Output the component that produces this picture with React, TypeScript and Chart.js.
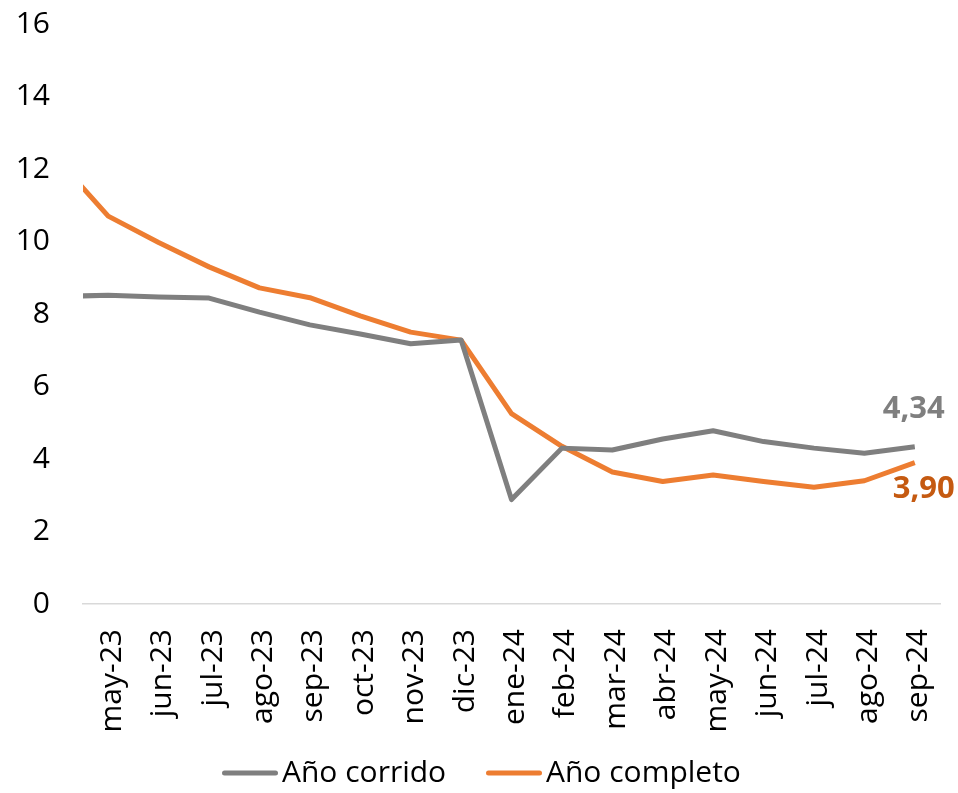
import React, { useEffect, useRef } from "react";
import { Chart, registerables } from "chart.js";

Chart.register(...registerables);

const categories = [
  "may-23", "jun-23", "jul-23", "ago-23", "sep-23", "oct-23", "nov-23", "dic-23",
  "ene-24", "feb-24", "mar-24", "abr-24", "may-24", "jun-24", "jul-24", "ago-24", "sep-24",
];
// value of the month before the first label (abr-23), only partly visible at the left edge
const priorCorrido = 8.48;
const priorCompleto = 12.25;
const anoCorrido = [8.52, 8.47, 8.44, 8.05, 7.7, 7.45, 7.18, 7.28, 2.88, 4.3, 4.25, 4.55, 4.78, 4.48, 4.3, 4.16, 4.34];
const anoCompleto = [10.7, 9.97, 9.3, 8.72, 8.45, 7.95, 7.5, 7.28, 5.25, 4.35, 3.64, 3.38, 3.56, 3.38, 3.22, 3.4, 3.9];
const yTicks = [0, 2, 4, 6, 8, 10, 12, 14, 16];
const seriesNames = ["Año corrido", "Año completo"];
const endLabels = ["4,34", "3,90"];

const GRAY = "#7f7f7f";
const ORANGE = "#ed7d31";
const ORANGE_DARK = "#c55a11";
const FONT = "'Open Sans', 'Noto Sans', sans-serif";
const FS = 30;

export default function App() {
  const ref = useRef<HTMLCanvasElement>(null);
  useEffect(() => {
    document.body.style.margin = "0";
    const toPts = (prior: number, arr: number[]) => [
      { x: -1, y: prior },
      ...arr.map((v, i) => ({ x: i, y: v })),
    ];
    const endLabelPlugin = {
      id: "endLabels",
      afterDatasetsDraw(chart: any) {
        const ctx = chart.ctx;
        const xs = chart.scales.x;
        const ys = chart.scales.y;
        const last = categories.length - 1;
        ctx.save();
        ctx.font = `bold 31px ${FONT}`;
        ctx.textAlign = "center";
        ctx.textBaseline = "middle";
        ctx.fillStyle = GRAY;
        ctx.fillText(endLabels[0], xs.getPixelForValue(last) - 1, ys.getPixelForValue(anoCorrido[last]) - 38);
        ctx.fillStyle = ORANGE_DARK;
        ctx.fillText(endLabels[1], xs.getPixelForValue(last) + 9, ys.getPixelForValue(anoCompleto[last]) + 27);
        ctx.restore();
      },
      afterDraw(chart: any) {
        const ctx = chart.ctx;
        ctx.save();
        ctx.font = `${FS}px ${FONT}`;
        ctx.textBaseline = "middle";
        const lineW = 56;
        const gap = 4;
        const starts = [222, 486];
        const colors = [GRAY, ORANGE];
        const y = 773;
        seriesNames.forEach((n, i) => {
          const x = starts[i];
          ctx.strokeStyle = colors[i];
          ctx.lineWidth = 5;
          ctx.lineCap = "round";
          ctx.beginPath();
          ctx.moveTo(x + 2.5, y);
          ctx.lineTo(x + lineW - 2.5, y);
          ctx.stroke();
          ctx.fillStyle = "#000";
          ctx.fillText(n, x + lineW + gap, y);
        });
        ctx.restore();
      },
    };
    const chart = new Chart(ref.current!, {
      type: "line",
      data: {
        datasets: [
          {
            label: seriesNames[0],
            data: toPts(priorCorrido, anoCorrido),
            borderColor: GRAY,
            backgroundColor: GRAY,
            borderWidth: 5,
            pointRadius: 0,
            tension: 0,
            clip: 0,
            borderJoinStyle: "round",
          },
          {
            label: seriesNames[1],
            data: toPts(priorCompleto, anoCompleto),
            borderColor: ORANGE,
            backgroundColor: ORANGE,
            borderWidth: 5,
            pointRadius: 0,
            tension: 0,
            clip: 0,
            borderJoinStyle: "round",
          },
        ],
      },
      options: {
        animation: false,
        responsive: false,
        layout: { padding: { left: 0, right: 18, top: 24, bottom: 60 } },
        plugins: { legend: { display: false }, tooltip: { enabled: false } },
        scales: {
          x: {
            type: "linear",
            min: -0.5,
            max: categories.length - 0.5,
            afterBuildTicks: (s: any) => {
              s.ticks = categories.map((_, i) => ({ value: i }));
            },
            afterFit: (s: any) => {
              s.height = 129;
              s.paddingLeft = 0;
              s.paddingRight = 0;
              s.paddingTop = 0;
              s.paddingBottom = 0;
            },
            grid: { display: false, drawTicks: false },
            border: { display: true, color: "#d9d9d9", width: 1.5 },
            ticks: {
              autoSkip: false,
              maxRotation: 90,
              minRotation: 90,
              padding: 25,
              labelOffset: 4,
              color: "#000",
              font: { family: FONT, size: FS },
              callback: (v: any) => categories[Math.round(Number(v))] ?? "",
            },
          },
          y: {
            min: 0,
            max: 16,
            afterBuildTicks: (s: any) => {
              s.ticks = yTicks.map((v) => ({ value: v }));
            },
            afterFit: (s: any) => {
              s.width = 83;
              s.paddingLeft = 0;
              s.paddingRight = 0;
              s.paddingTop = 0;
              s.paddingBottom = 0;
            },
            grid: { display: false, drawTicks: false },
            border: { display: false },
            ticks: {
              padding: 33,
              color: "#000",
              font: { family: FONT, size: FS },
            },
          },
        },
      },
      plugins: [endLabelPlugin],
    } as any);
    return () => chart.destroy();
  }, []);
  return (
    <div style={{ width: 958, height: 793, background: "#fff" }}>
      <canvas ref={ref} width={958} height={793} />
    </div>
  );
}
